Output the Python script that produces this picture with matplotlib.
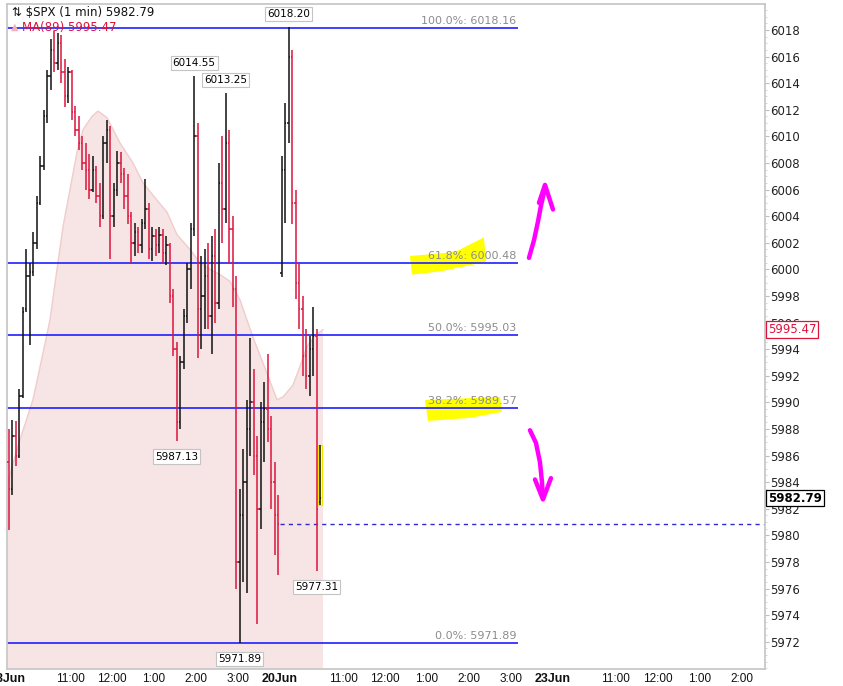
import matplotlib
matplotlib.use("Agg")
import matplotlib.pyplot as plt
import matplotlib.transforms as mtransforms
import numpy as np

plt.rcParams['font.family'] = ['DejaVu Sans']

# ---------------- data ----------------
# 18 Jun, 5-minute bars starting 9:30 (time axis = session minutes since 18 Jun 9:30)
o18 = [5985.5,5983.5,5987.5,5986.0,5990.5,5997.0,5999.5,5999.8,6002.0,6005.0,
       6007.8,6011.5,6014.5,6016.5,6015.5,6017.0,6014.8,6013.0,6014.8,6011.8,
       6010.5,6009.5,6008.0,6007.5,6006.0,6007.5,6005.5,6004.0,6009.5,6010.5,
       6004.0,6006.0,6008.0,6007.2,6005.5,6004.0,6002.0,6002.8,6001.8,6003.5,
       6004.5,6001.5,6002.5,6001.8,6002.6,6001.2,6001.8,5998.0,5994.0,5988.5,
       5993.0,5996.5,6000.0,6003.0,6010.0,5997.0,5998.0,5999.5,5996.5,6001.0,
       5997.5,6006.5,6004.5,6009.5,6003.0,5998.5,5978.0,5981.5,5984.0,5988.0,
       5990.0,5986.0,5982.0,5988.5,5989.5,5988.0,5984.0,5981.5]
h18 = [5988.0,5988.7,5988.6,5991.0,5997.2,6001.5,6000.5,6002.8,6005.5,6008.5,
       6012.0,6015.0,6017.3,6017.9,6017.8,6017.6,6015.8,6015.2,6015.0,6012.3,
       6011.5,6010.0,6009.5,6008.7,6008.5,6007.8,6006.5,6010.0,6011.2,6010.8,
       6006.5,6008.9,6008.8,6007.6,6007.2,6004.3,6003.5,6003.2,6003.8,6006.8,
       6005.0,6003.2,6003.0,6003.2,6003.0,6002.5,6002.0,5998.5,5994.5,5993.5,
       5997.0,6000.5,6003.5,6014.55,6011.0,6001.0,6001.5,6002.0,6002.5,6003.0,
       6008.0,6010.0,6013.25,6010.5,6004.0,5999.5,5983.5,5986.5,5990.2,5994.8,
       5992.5,5987.5,5990.0,5991.5,5993.6,5989.0,5985.5,5983.0]
l18 = [5980.4,5983.0,5985.2,5985.8,5990.3,5996.8,5994.3,5999.5,6001.5,6004.8,
       6007.5,6011.0,6013.5,6014.8,6015.0,6014.0,6012.2,6012.5,6011.2,6010.0,
       6009.0,6007.5,6006.0,6005.3,6005.8,6005.0,6003.2,6003.8,6008.0,6000.8,
       6003.2,6005.5,6006.5,6004.5,6003.4,6000.4,6001.0,6001.2,6001.2,6003.0,
       6000.8,6000.6,6001.0,6001.2,6000.5,6000.3,5997.5,5993.5,5987.13,5988.0,
       5992.5,5996.0,5998.5,6002.5,5993.3,5994.0,5995.5,5995.5,5993.6,5996.0,
       5997.0,6002.0,6003.5,6000.5,5997.2,5976.0,5971.89,5976.5,5975.7,5986.0,
       5984.5,5973.3,5980.5,5985.5,5987.0,5982.0,5978.5,5977.0]
c18 = [5983.5,5987.5,5986.0,5990.5,5996.8,5999.5,5999.8,6002.0,6005.0,6007.8,
       6011.5,6014.5,6016.5,6015.5,6017.0,6014.8,6013.0,6014.8,6011.8,6010.5,
       6009.5,6008.0,6007.5,6006.0,6007.5,6005.5,6004.0,6009.5,6010.5,6004.0,
       6006.0,6008.0,6007.2,6005.5,6004.0,6002.0,6002.8,6001.8,6003.5,6004.5,
       6001.5,6002.5,6001.8,6002.6,6001.2,6001.8,5998.0,5994.0,5988.5,5993.0,
       5996.5,6000.0,6003.0,6010.0,5997.0,5998.0,5999.5,5996.5,6001.0,5997.5,
       6006.5,6004.5,6009.5,6003.0,5998.5,5978.0,5981.5,5984.0,5988.0,5990.0,
       5986.0,5982.0,5988.5,5989.5,5988.0,5984.0,5981.5,5980.87]

# 20 Jun, 5-minute bars from 9:30
o20 = [5999.7,6007.5,6011.0,6016.0,6005.0,5999.0,5997.0,5993.5,5992.0,5994.0,5995.0,5982.5]
h20 = [6008.5,6012.5,6018.20,6016.5,6006.0,6000.5,5998.0,5995.5,5995.0,5997.2,5995.5,5986.8]
l20 = [5999.4,6003.5,6009.5,6003.4,5997.8,5995.5,5992.0,5991.0,5990.5,5992.0,5977.31,5982.3]
c20 = [6007.5,6011.0,6016.0,6005.0,5999.0,5997.0,5993.5,5992.0,5994.0,5995.0,5982.0,5982.79]

# MA(89) read at sample times (session minutes)
ma_t = [1.4, 8.6, 18.6, 37.1, 51.4, 61.4, 71.4, 80, 90, 100, 108.6, 121.4, 130, 142.9,
        161.4, 180, 194.3, 214.3, 228.6, 242.9, 261.4, 275.7, 290, 304.3, 318.6, 332.9,
        351.4, 371.4, 385.7, 394.3, 408.6, 418.6, 428.6, 440, 451.4]
ma_v = [5984.0, 5985.4, 5987.2, 5990.2, 5993.7, 5996.2, 6000.0, 6003.2, 6006.0, 6008.8,
        6010.5, 6011.5, 6011.9, 6011.4, 6009.5, 6008.0, 6006.5, 6005.2, 6004.3, 6002.6,
        6001.5, 6000.5, 6000.0, 5999.6, 5999.1, 5997.7, 5994.9, 5992.2, 5990.2, 5990.4,
        5991.3, 5992.7, 5994.2, 5995.0, 5995.47]

fib_names = ['100.0%', '61.8%', '50.0%', '38.2%', '0.0%']
fib_levels = [6018.16, 6000.48, 5995.03, 5989.57, 5971.89]
fib_end = 730
prev_close = 5980.87
last_price = 5982.79
ma_last = 5995.47

tick_pos = [0, 90, 150, 210, 270, 330, 390, 480, 540, 600, 660, 720, 780, 870, 930, 990, 1050]
tick_lab = ['18Jun', '11:00', '12:00', '1:00', '2:00', '3:00', '20Jun', '11:00', '12:00',
            '1:00', '2:00', '3:00', '23Jun', '11:00', '12:00', '1:00', '2:00']
date_labels = {'18Jun', '20Jun', '23Jun'}

# hand-drawn annotations (session minutes, price)
up_arrow_t = [745.7, 752.9, 758.6, 762.9, 768.6]
up_arrow_p = [6000.86, 6002.2, 6003.6, 6004.8, 6006.1]
up_head_t = [760.0, 768.6, 780.0]
up_head_p = [6005.0, 6006.35, 6004.5]
dn_arrow_t = [747.1, 755.7, 761.4, 764.3, 765.7]
dn_arrow_p = [5987.9, 5986.95, 5985.5, 5984.0, 5982.9]
dn_head_t = [754.3, 765.7, 777.1]
dn_head_p = [5984.2, 5982.7, 5984.3]
hl1_t = [575.7, 640, 681.4, 684.3, 620, 578.6]
hl1_p = [6001.0, 6001.3, 6002.4, 6000.56, 5999.85, 5999.6]
hl2_t = [597.1, 704.3, 707.1, 661.4, 601.4]
hl2_p = [5990.18, 5990.41, 5989.28, 5988.83, 5988.6]

# ---------------- figure ----------------
W, H = 843, 686
fig = plt.figure(figsize=(W / 100, H / 100), dpi=100)
ax = fig.add_axes([7 / W, 17 / H, (765 - 7) / W, (682 - 17) / H])
ax.set_xlim(0, 1082.9)
ax.set_ylim(5969.95, 6019.95)

UP = '#111111'
DN = '#dc143c'

# MA shaded area
ax.fill_between(ma_t, ma_v, 5960, color='#f7e4e4', lw=0, zorder=1)
ax.plot(ma_t, ma_v, color='#f1cccc', lw=1.0, zorder=1.2)

# yellow highlights
ax.fill(hl1_t, hl1_p, color='#ffff00', lw=0, zorder=1.5)
ax.fill(hl2_t, hl2_p, color='#ffff00', lw=0, zorder=1.5)

t18 = 2.5 + 5 * np.arange(len(o18))
t20 = 392.5 + 5 * np.arange(len(o20))
T = np.concatenate([t18, t20])
O = np.array(o18 + o20)
Hh = np.array(h18 + h20)
L = np.array(l18 + l20)
C = np.array(c18 + c20)
cols = [UP if c >= o else DN for o, c in zip(O, C)]

# highlight of the current bar
ax.add_patch(plt.Rectangle((T[-1] - 2.6, L[-1]), 5.2, Hh[-1] - L[-1],
                           facecolor='#ffff80', edgecolor='#f2e600', lw=0.8, zorder=2))

# fib lines
for lvl, nm in zip(fib_levels, fib_names):
    ax.hlines(lvl, 0, fib_end, colors='#1f1fff', lw=1.2, zorder=2.2)
    ax.annotate(f'{nm}: {lvl:.2f}', xy=(fib_end - 2, lvl), xytext=(0, 2),
                textcoords='offset pixels', ha='right', va='bottom',
                fontsize=8, color='#8c8c8c', zorder=4)

# previous close
ax.hlines(prev_close, 390, 1082.9, colors='#2b2bd6', lw=1.0,
          linestyles=(0, (3, 3)), zorder=2.2)

# OHLC bars
tw = 1.8
ax.vlines(T, L, Hh, colors=cols, lw=1.1, zorder=3)
ax.hlines(O, T - tw, T, colors=cols, lw=1.1, zorder=3)
ax.hlines(C, T, T + tw, colors=cols, lw=1.1, zorder=3)

# high / low callouts
box = dict(boxstyle='square,pad=0.2', fc='white', ec='#c4c4c4', lw=0.8)
highs = [(t20[2], h20[2]), (t18[53], h18[53]), (t18[62], h18[62])]
lows = [(t18[48], l18[48]), (t18[66], l18[66]), (t20[10], l20[10])]
for t, p in highs:
    ax.annotate(f'{p:.2f}', xy=(t, p), xytext=(0, 13), textcoords='offset pixels',
                ha='center', va='center', fontsize=7.5, bbox=box, zorder=5)
for t, p in lows:
    ax.annotate(f'{p:.2f}', xy=(t, p), xytext=(0, -16), textcoords='offset pixels',
                ha='center', va='center', fontsize=7.5, bbox=box, zorder=5)

# magenta hand-drawn arrows
for xs, ys in [(up_arrow_t, up_arrow_p), (up_head_t, up_head_p),
               (dn_arrow_t, dn_arrow_p), (dn_head_t, dn_head_p)]:
    ax.plot(xs, ys, color='#ff00ff', lw=3.2, solid_capstyle='round',
            solid_joinstyle='round', zorder=6)

# axes styling
for s in ax.spines.values():
    s.set_color('#c8c8c8')
    s.set_linewidth(1.3)
ax.yaxis.tick_right()
ax.set_yticks(np.arange(5972, 6019, 2))
ax.set_yticks(np.arange(5970, 6020, 0.5), minor=True)
ax.tick_params(axis='y', which='major', length=3, width=0.8, color='#bdbdbd',
               pad=1, labelsize=8.5, labelcolor='#222222')
ax.tick_params(axis='y', which='minor', length=1.5, width=0.6, color='#cfcfcf')
ax.set_xticks(tick_pos)
ax.set_xticklabels(tick_lab)
ax.tick_params(axis='x', length=0, pad=3, labelsize=8.5, labelcolor='#111111')
for lab in ax.get_xticklabels():
    lab.set_fontfamily(['Liberation Sans', 'DejaVu Sans'])
    if lab.get_text() in date_labels:
        lab.set_fontweight('bold')
        lab.set_fontsize(9)

# price tags on the right axis
trans = mtransforms.blended_transform_factory(ax.transAxes, ax.transData)
ax.annotate(f'{ma_last:.2f}', xy=(1.0, ma_last), xycoords=trans, xytext=(3, 0),
            textcoords='offset pixels', ha='left', va='center', fontsize=8.5,
            color='#dc143c', annotation_clip=False, zorder=7,
            bbox=dict(boxstyle='square,pad=0.15', fc='white', ec='#dc143c', lw=0.9))
ax.annotate(f'{last_price:.2f}', xy=(1.0, last_price), xycoords=trans, xytext=(3, 0),
            textcoords='offset pixels', ha='left', va='center', fontsize=8.5,
            fontweight='bold', color='black', annotation_clip=False, zorder=7,
            bbox=dict(boxstyle='square,pad=0.15', fc='white', ec='black', lw=0.9))

# header texts
fig.text(12 / W, 1 - 13 / H, '\u21c5 $SPX (1 min) 5982.79', fontsize=8.5,
         color='#111111', va='center', ha='left')
fig.text(11 / W, 1 - 27 / H, '\u25b2', fontsize=7, color='#f4b0bc', va='center', ha='left')
fig.text(22 / W, 1 - 27 / H, f'MA(89) {ma_last:.2f}', fontsize=8.5,
         color='#dc143c', va='center', ha='left')

fig.savefig('out.png', dpi=100, facecolor='white')
